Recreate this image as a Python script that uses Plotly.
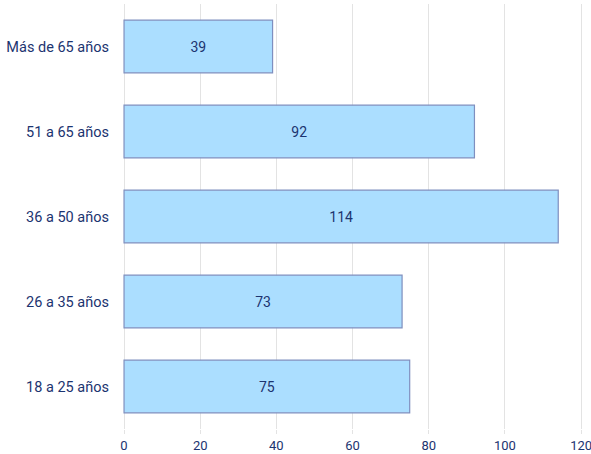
import plotly.graph_objects as go

categories = ["18 a 25 años", "26 a 35 años", "36 a 50 años", "51 a 65 años", "Más de 65 años"]
values = [75, 73, 114, 92, 39]
tick_vals = [0, 20, 40, 60, 80, 100, 120]

navy = "#1c3470"

fig = go.Figure(go.Bar(
    y=categories, x=values, orientation="h",
    width=0.62,
    marker=dict(color="#abdeff", line=dict(color="#7f8fbf", width=1.2)),
    text=[str(v) for v in values], textposition="inside", insidetextanchor="middle",
    textfont=dict(family="Roboto", size=14, color=navy),
    hoverinfo="skip",
))

fig.update_layout(
    width=591, height=454,
    margin=dict(l=123, r=8, t=4, b=25),
    plot_bgcolor="white", paper_bgcolor="white",
    showlegend=False,
    font=dict(family="Roboto", size=14, color=navy),
)
fig.update_xaxes(
    range=[-0.27, 120.5], tickvals=tick_vals, showgrid=True, gridcolor="#e3e3e3", gridwidth=1,
    zeroline=False, showline=False, ticks="outside", ticklen=4, tickcolor="#e3e3e3",
    tickfont=dict(size=13, color=navy), fixedrange=True, automargin=False,
    ticklabeloverflow="allow",
)
fig.update_yaxes(
    showgrid=False, zeroline=False, showline=False, ticks="", ticklabelstandoff=13,
    tickfont=dict(size=14.5, color=navy), fixedrange=True, automargin=False,
)

fig.write_html(
    "out.html",
    config={"displayModeBar": False},
    post_script="document.body.style.margin='0';document.body.style.overflow='hidden';",
)
